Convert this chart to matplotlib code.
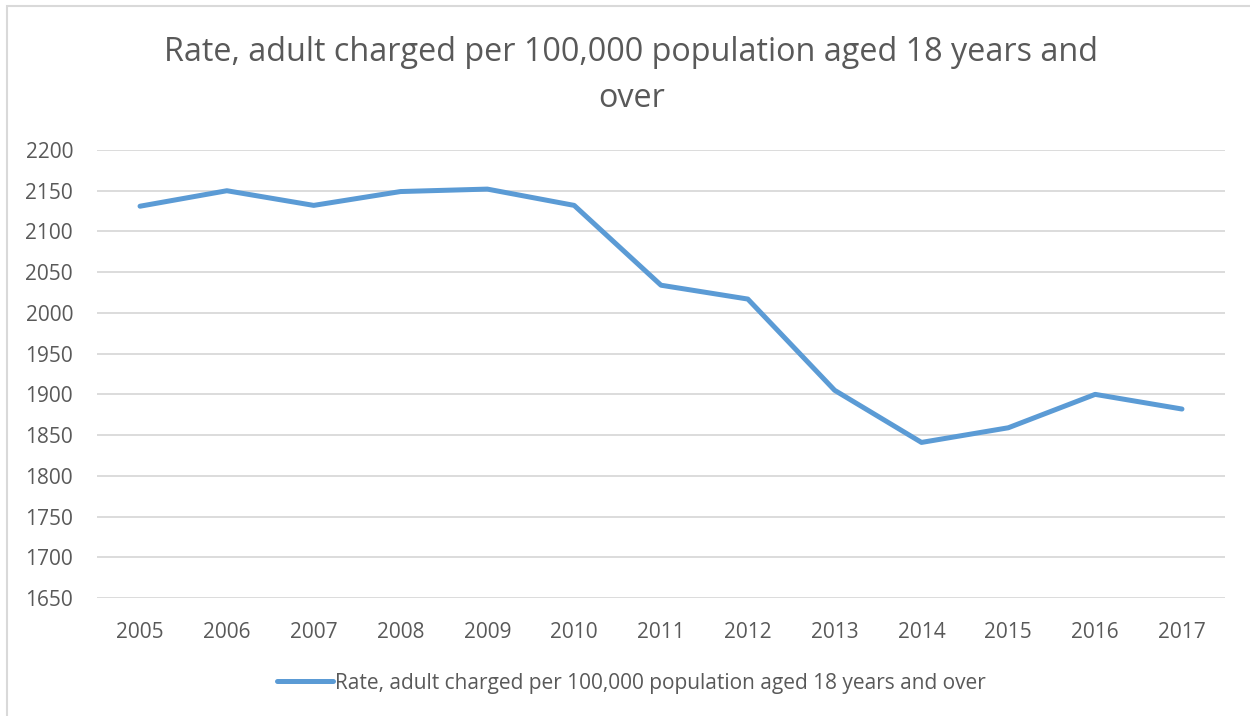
import matplotlib
matplotlib.use('Agg')
import matplotlib.pyplot as plt
from matplotlib.patches import Rectangle

# Adult charged rate per 100,000 population aged 18+, by year
years = ['2005', '2006', '2007', '2008', '2009', '2010', '2011',
         '2012', '2013', '2014', '2015', '2016', '2017']
rates = [2131, 2150, 2132, 2149, 2152, 2132, 2034,
         2017, 1905, 1841, 1859, 1900, 1882]
y_ticks = list(range(1650, 2201, 50))

series_name = 'Rate, adult charged per 100,000 population aged 18 years and over'
text_color = '#595959'

plt.rcParams['font.family'] = ['Open Sans', 'DejaVu Sans']

fig = plt.figure(figsize=(12.5, 7.16), dpi=100)
ax = fig.add_axes([0.0773, 0.1648, 0.9030, 0.6257])

x = list(range(len(years)))
ax.plot(x, rates, color='#5b9bd5', linewidth=3.6, solid_joinstyle='round',
        solid_capstyle='round', label=series_name, zorder=3)

ax.set_xlim(-0.5, len(years) - 0.5)
ax.set_ylim(1650, 2200)
ax.set_yticks(y_ticks)
ax.set_xticks(x)
ax.set_xticklabels(years)
ax.grid(axis='y', color='#d9d9d9', linewidth=1.3)
ax.set_axisbelow(True)
for s in ax.spines.values():
    s.set_visible(False)
ax.tick_params(axis='both', length=0, labelsize=15, colors=text_color)
ax.tick_params(axis='y', pad=17)
ax.tick_params(axis='x', pad=17)

fig.text(0.505, 0.95, 'Rate, adult charged per 100,000 population aged 18 years and\nover',
         ha='center', va='top', fontsize=23.3, color=text_color, linespacing=1.52)

leg = fig.legend(loc='center', bbox_to_anchor=(0.505, 0.046), frameon=False,
                 fontsize=15, handlelength=2.7, handletextpad=0.1)
for t in leg.get_texts():
    t.set_color(text_color)

# light chart border
fig.patches.append(Rectangle((7 / 1250, -0.1), 1.2, 1 - 6 / 716 + 0.1,
                             transform=fig.transFigure, fill=False,
                             edgecolor='#d9d9d9', linewidth=1.5))

fig.savefig('out.png', dpi=100)
